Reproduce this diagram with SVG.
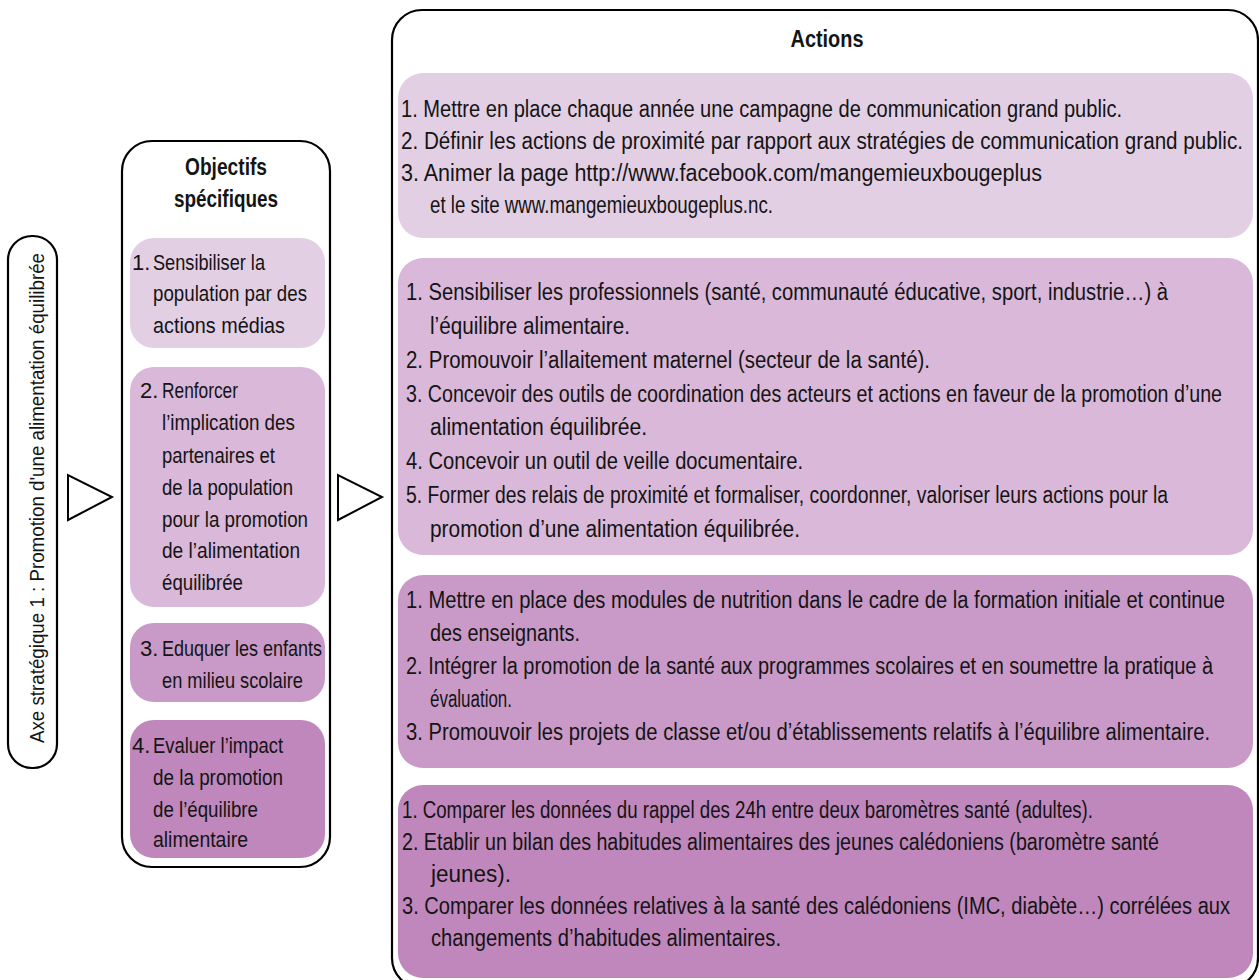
<svg xmlns="http://www.w3.org/2000/svg" width="1259" height="980" viewBox="0 0 1259 980">
<style>
.frame{fill:#fff;stroke:#000;stroke-width:2.2}
.tri{fill:#fff;stroke:#000;stroke-width:2}
.c1{fill:#e3cfe4}
.c2{fill:#d9b8d9}
.c3{fill:#c99ac7}
.c4{fill:#bf87bc}
text{font-family:"Liberation Sans Narrow","Liberation Sans",Arial,sans-serif;fill:#141414}
.m{font-size:22px}
.a{font-size:23px}
.h{font-size:23px;font-weight:bold}
.x{font-size:21px}
</style>

<g id="axe">
<rect class="frame" x="8" y="236" width="49" height="532" rx="24"/>
<text class="x" transform="translate(44,498) rotate(-90)" text-anchor="middle" textLength="490" lengthAdjust="spacingAndGlyphs">Axe stratégique 1 :  Promotion d'une alimentation équilibrée</text>
</g>

<g id="connectors">
<polygon class="tri" points="68,475 68,520 112,497"/>
<polygon class="tri" points="338,475 338,520 382,497"/>
</g>

<g id="objectifs">
<rect class="frame" x="122" y="141" width="208" height="726" rx="30"/>
<text class="h" x="226" y="175" text-anchor="middle" textLength="82" lengthAdjust="spacingAndGlyphs">Objectifs</text>
<text class="h" x="226" y="207" text-anchor="middle" textLength="104" lengthAdjust="spacingAndGlyphs">spécifiques</text>
</g>

<g id="obj1">
<rect class="c1" x="130" y="238" width="195" height="110" rx="24"/>
<text class="m" x="132" y="270">1.</text>
<text class="m" x="153" y="270" textLength="112" lengthAdjust="spacingAndGlyphs">Sensibiliser la</text>
<text class="m" x="153" y="301" textLength="154" lengthAdjust="spacingAndGlyphs">population par des</text>
<text class="m" x="153" y="333" textLength="132" lengthAdjust="spacingAndGlyphs">actions médias</text>
</g>

<g id="obj2">
<rect class="c2" x="130" y="367" width="195" height="240" rx="24"/>
<text class="m" x="140" y="398">2.</text>
<text class="m" x="162" y="398" textLength="76" lengthAdjust="spacingAndGlyphs">Renforcer</text>
<text class="m" x="162" y="430" textLength="133" lengthAdjust="spacingAndGlyphs">l’implication des</text>
<text class="m" x="162" y="463" textLength="113" lengthAdjust="spacingAndGlyphs">partenaires et</text>
<text class="m" x="162" y="495" textLength="131" lengthAdjust="spacingAndGlyphs">de la population</text>
<text class="m" x="162" y="527" textLength="146" lengthAdjust="spacingAndGlyphs">pour la promotion</text>
<text class="m" x="162" y="558" textLength="138" lengthAdjust="spacingAndGlyphs">de l’alimentation</text>
<text class="m" x="162" y="590" textLength="81" lengthAdjust="spacingAndGlyphs">équilibrée</text>
</g>

<g id="obj3">
<rect class="c3" x="130" y="623" width="195" height="79" rx="24"/>
<text class="m" x="140" y="656">3.</text>
<text class="m" x="162" y="656" textLength="160" lengthAdjust="spacingAndGlyphs">Eduquer les enfants</text>
<text class="m" x="162" y="688" textLength="141" lengthAdjust="spacingAndGlyphs">en milieu scolaire</text>
</g>

<g id="obj4">
<rect class="c4" x="130" y="720" width="195" height="138" rx="24"/>
<text class="m" x="132" y="753">4.</text>
<text class="m" x="153" y="753" textLength="130" lengthAdjust="spacingAndGlyphs">Evaluer l’impact</text>
<text class="m" x="153" y="785" textLength="130" lengthAdjust="spacingAndGlyphs">de la promotion</text>
<text class="m" x="153" y="817" textLength="105" lengthAdjust="spacingAndGlyphs">de l’équilibre</text>
<text class="m" x="153" y="847" textLength="95" lengthAdjust="spacingAndGlyphs">alimentaire</text>
</g>

<g id="actions">
<rect class="frame" x="392" y="10" width="866" height="978" rx="30"/>
<text class="h" x="827" y="47" text-anchor="middle" textLength="73" lengthAdjust="spacingAndGlyphs">Actions</text>
</g>

<g id="act1">
<rect class="c1" x="398" y="73" width="855" height="165" rx="25"/>
<text class="a" x="401" y="117" textLength="721" lengthAdjust="spacingAndGlyphs">1. Mettre en place chaque année une campagne de communication grand public.</text>
<text class="a" x="401" y="149" textLength="842" lengthAdjust="spacingAndGlyphs">2. Définir les actions de proximité par rapport aux stratégies de communication grand public.</text>
<text class="a" x="401" y="181" textLength="641" lengthAdjust="spacingAndGlyphs">3. Animer la page http://www.facebook.com/mangemieuxbougeplus</text>
<text class="a" x="430" y="213" textLength="343" lengthAdjust="spacingAndGlyphs">et le site www.mangemieuxbougeplus.nc.</text>
</g>

<g id="act2">
<rect class="c2" x="398" y="258" width="855" height="297" rx="25"/>
<text class="a" x="406" y="300" textLength="762" lengthAdjust="spacingAndGlyphs">1. Sensibiliser les professionnels (santé, communauté éducative, sport, industrie…) à</text>
<text class="a" x="430" y="334" textLength="200" lengthAdjust="spacingAndGlyphs">l’équilibre alimentaire.</text>
<text class="a" x="406" y="368" textLength="524" lengthAdjust="spacingAndGlyphs">2. Promouvoir l’allaitement maternel (secteur de la santé).</text>
<text class="a" x="406" y="402" textLength="816" lengthAdjust="spacingAndGlyphs">3. Concevoir des outils de coordination des acteurs et actions en faveur de la promotion d’une</text>
<text class="a" x="430" y="435" textLength="217" lengthAdjust="spacingAndGlyphs">alimentation équilibrée.</text>
<text class="a" x="406" y="469" textLength="397" lengthAdjust="spacingAndGlyphs">4. Concevoir un outil de veille documentaire.</text>
<text class="a" x="406" y="503" textLength="762" lengthAdjust="spacingAndGlyphs">5. Former des relais de proximité et formaliser, coordonner, valoriser leurs actions pour la</text>
<text class="a" x="430" y="537" textLength="370" lengthAdjust="spacingAndGlyphs">promotion d’une alimentation équilibrée.</text>
</g>

<g id="act3">
<rect class="c3" x="398" y="575" width="855" height="193" rx="25"/>
<text class="a" x="406" y="608" textLength="819" lengthAdjust="spacingAndGlyphs">1. Mettre en place des modules de nutrition dans le cadre de la formation initiale et continue</text>
<text class="a" x="430" y="641" textLength="150" lengthAdjust="spacingAndGlyphs">des enseignants.</text>
<text class="a" x="406" y="674" textLength="807" lengthAdjust="spacingAndGlyphs">2. Intégrer la promotion de la santé aux programmes scolaires et en soumettre la pratique à</text>
<text class="a" x="430" y="707" textLength="82" lengthAdjust="spacingAndGlyphs">évaluation.</text>
<text class="a" x="406" y="740" textLength="804" lengthAdjust="spacingAndGlyphs">3. Promouvoir les projets de classe et/ou d’établissements relatifs à l’équilibre alimentaire.</text>
</g>

<g id="act4">
<rect class="c4" x="398" y="785" width="855" height="193" rx="25"/>
<text class="a" x="402" y="818" textLength="691" lengthAdjust="spacingAndGlyphs">1. Comparer les données du rappel des 24h entre deux baromètres santé (adultes).</text>
<text class="a" x="402" y="850" textLength="757" lengthAdjust="spacingAndGlyphs">2. Etablir un bilan des habitudes alimentaires des jeunes calédoniens (baromètre santé</text>
<text class="a" x="431" y="882" textLength="80" lengthAdjust="spacingAndGlyphs">jeunes).</text>
<text class="a" x="402" y="914" textLength="828" lengthAdjust="spacingAndGlyphs">3. Comparer les données relatives à la santé des calédoniens (IMC,  diabète…) corrélées aux</text>
<text class="a" x="431" y="946" textLength="350" lengthAdjust="spacingAndGlyphs">changements d’habitudes alimentaires.</text>
</g>
</svg>
